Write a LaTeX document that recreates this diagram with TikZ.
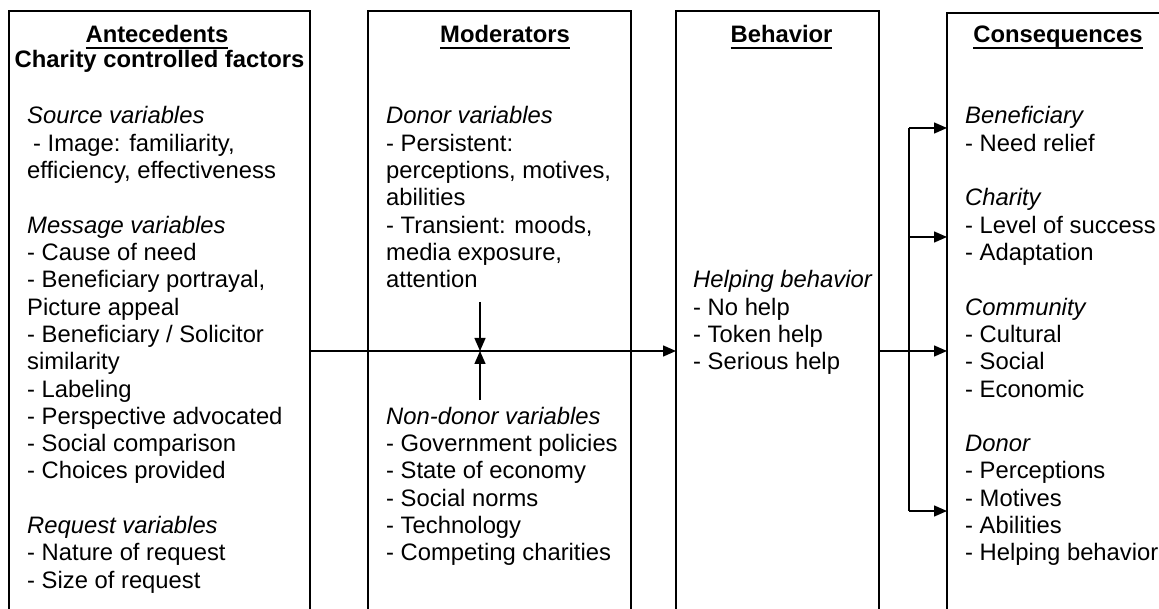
\documentclass[tikz,border=0pt]{standalone}
\usepackage{fontspec}
\setmainfont{Liberation Sans}
\usetikzlibrary{arrows.meta}
\newcommand{\myul}[1]{\setbox0\hbox{#1}\rlap{\rule[-6pt]{\wd0}{2pt}}\box0}
\begin{document}
\begin{tikzpicture}[x=1pt,y=1pt,
  box/.style={draw, line width=1.4pt, anchor=north west, inner sep=0pt, outer sep=0pt},
  txt/.style={anchor=base west, inner sep=0pt, align=left, font=\fontsize{23.8pt}{27.3pt}\selectfont},
  ttl/.style={anchor=base, inner sep=0pt, font=\fontsize{23.8pt}{27.3pt}\selectfont\bfseries},
  arr/.style={line width=1.4pt, -{Triangle[length=13pt,width=11pt]}},
  ln/.style={line width=1.4pt}]
\useasboundingbox (0,0) rectangle (1159,-609);
\begin{scope}
\clip (0,0) rectangle (1159,-609);
% boxes
\node[box, minimum width=301pt, minimum height=640pt] (ante) at (9,-11) {};
\node[box, minimum width=263pt, minimum height=640pt] (mod) at (368,-11) {};
\node[box, minimum width=203pt, minimum height=640pt] (beh) at (676,-11) {};
\node[box, minimum width=240pt, minimum height=640pt] (cons) at (947,-13) {};

% Antecedents (multi-line nodes are placed by the baseline of their last line)
\node[ttl] (antt) at (157,-43) {\myul{Antecedents}};
\node[ttl] (ants) at (159.5,-68) {Charity controlled factors};
\node[txt] (asrc) at (27,-178.6) {\textit{Source variables}\\\hspace*{6pt}- Image: familiarity,\\efficiency, effectiveness};
\node[txt] (amsg) at (27,-478.9) {\textit{Message variables}\\- Cause of need\\- Beneficiary portrayal,\\Picture appeal\\- Beneficiary / Solicitor\\similarity\\- Labeling\\- Perspective advocated\\- Social comparison\\- Choices provided};
\node[txt] (areq) at (27,-588.1) {\textit{Request variables}\\- Nature of request\\- Size of request};

% Moderators
\node[ttl] (modt) at (505,-43) {\myul{Moderators}};
\node[txt] (mdon) at (386,-287.8) {\textit{Donor variables}\\- Persistent:\\perceptions, motives,\\abilities\\- Transient: moods,\\media exposure,\\attention};
\node[txt] (mnon) at (386,-560.8) {\textit{Non-donor variables}\\- Government policies\\- State of economy\\- Social norms\\- Technology\\- Competing charities};

% Behavior
\node[ttl] (beht) at (781.5,-43) {\myul{Behavior}};
\node[txt] (bhelp) at (693,-369.7) {\textit{Helping behavior}\\- No help\\- Token help\\- Serious help};

% Consequences
\node[ttl] (const) at (1058,-43) {\myul{Consequences}};
\node[txt] (cben) at (965,-151.3) {\textit{Beneficiary}\\- Need relief};
\node[txt] (ccha) at (965,-260.5) {\textit{Charity}\\- Level of success\\- Adaptation};
\node[txt] (ccom) at (965,-397.0) {\textit{Community}\\- Cultural\\- Social\\- Economic};
\node[txt] (cdon) at (965,-560.8) {\textit{Donor}\\- Perceptions\\- Motives\\- Abilities\\- Helping behavior};

% connectors
\coordinate (mainy) at (0,-351);
\coordinate (modtop) at (480,-302);
\coordinate (modbot) at (480,-400);
\coordinate (modmid) at (480,-351);
\coordinate (sp1) at (909,-128);
\coordinate (sp2) at (909,-237);
\coordinate (sp4) at (909,-511);

\draw[arr] (ante.east |- mainy) -- (beh.west |- mainy);
\draw[arr] (modtop) -- (modmid);
\draw[arr] (modbot) -- (modmid);
\draw[arr] (beh.east |- mainy) -- (cons.west |- mainy);
\draw[ln] (sp1) -- (sp4);
\draw[arr] (sp1) -- (cons.west |- sp1);
\draw[arr] (sp2) -- (cons.west |- sp2);
\draw[arr] (sp4) -- (cons.west |- sp4);
\end{scope}
\end{tikzpicture}
\end{document}
